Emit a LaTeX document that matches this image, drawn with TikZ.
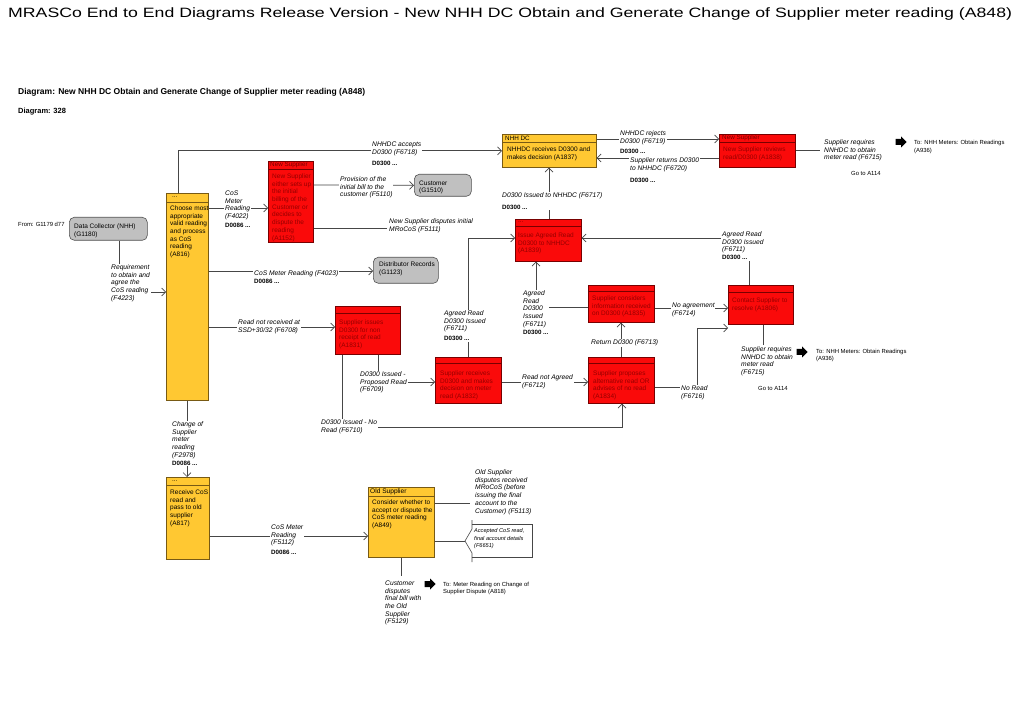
\documentclass[tikz,border=0pt]{standalone}
\usepackage{graphicx}
\usepackage{fontspec}
\setmainfont{Liberation Sans}
\usetikzlibrary{arrows.meta}
\definecolor{boxred}{RGB}{250,10,10}
\definecolor{redborder}{RGB}{120,0,0}
\definecolor{redink}{RGB}{150,0,0}
\definecolor{boxyel}{RGB}{255,200,50}
\definecolor{yelborder}{RGB}{120,90,20}
\definecolor{boxgray}{RGB}{192,192,192}
\definecolor{grayborder}{RGB}{80,80,80}
\definecolor{linegray}{RGB}{70,70,70}
\newcommand\myref[1]{{\upshape\bfseries\fontsize{6.2}{7.7}\selectfont #1}}
\newcommand\blockarr[1]{\fill[black] (#1) ++(-5.5,-3) -- ++(5.5,0) -- ++(0,-2.5) -- ++(5.5,5.5) -- ++(-5.5,5.5) -- ++(0,-2.5) -- ++(-5.5,0) -- cycle;}
\begin{document}
\begin{tikzpicture}[x=1pt,y=-1pt,
  box/.style={draw, line width=0.6pt, inner sep=0pt, anchor=north west},
  redbox/.style={box, fill=boxred, draw=redborder},
  yelbox/.style={box, fill=boxyel, draw=yelborder},
  graybox/.style={box, fill=boxgray, draw=grayborder, rounded corners=5pt},
  bodytext/.style={anchor=north west, inner sep=0pt, align=left, font=\fontsize{6.5}{7.7}\selectfont},
  redtext/.style={bodytext, text=redink},
  headtext/.style={anchor=west, inner sep=0pt, font=\fontsize{6.3}{7}\selectfont},
  lab/.style={anchor=north west, inner sep=0.8pt, align=left, fill=white, font=\fontsize{6.7}{7.7}\selectfont\itshape},
  note/.style={anchor=north west, inner sep=0pt, align=left, font=\fontsize{5.9}{7.5}\selectfont},
  conn/.style={draw=linegray, line width=0.7pt},
  arr/.style={conn, -{Straight Barb[length=4pt,width=8pt]}}
]
\useasboundingbox (0,0) rectangle (1023,708);
\fill[white] (0,0) rectangle (1023,708);

% titles
\node[anchor=base west, inner sep=0pt] (title) at (8,17.5) {\resizebox{1004pt}{9.8pt}{\fontsize{12}{14}\selectfont MRASCo End to End Diagrams Release Version - New NHH DC Obtain and Generate Change of Supplier meter reading (A848)}};
\node[anchor=west, inner sep=0pt] (diag1) at (18,92) {\resizebox{347pt}{!}{\fontsize{7.5}{9}\selectfont\bfseries Diagram: New NHH DC Obtain and Generate Change of Supplier meter reading (A848)}};
\node[anchor=west, inner sep=0pt, font=\fontsize{7.5}{9}\selectfont\bfseries] (diag2) at (18,112) {Diagram: 328};

% ---------- boxes ----------
% Data collector
\node[graybox, minimum width=78pt, minimum height=23pt] (datacol) at (69,217) {};
\node[bodytext] (datacol-t) at (74,223.5) {Data Collector (NHH)\\(G1180)};
\node[note] (from) at (18,222) {From: G1179 d77};

% A816
\node[yelbox, minimum width=42pt, minimum height=207pt] (a816) at (166,193) {};
\draw[yelborder, line width=0.5pt] ([yshift=-9pt]a816.north west) -- ([yshift=-9pt]a816.north east);
\node[headtext] (a816-h) at ([xshift=6pt,yshift=-4pt]a816.north west) {...};
\node[bodytext] (a816-t) at (170,205.5) {Choose most\\appropriate\\valid reading\\and process\\as CoS\\reading\\(A816)};

% A1152
\node[redbox, minimum width=45pt, minimum height=81pt] (a1152) at (268,161) {};
\draw[redborder, line width=0.5pt] ([yshift=-8pt]a1152.north west) -- ([yshift=-8pt]a1152.north east);
\node[headtext, text=redborder] (a1152-h) at ([xshift=2pt,yshift=-4pt]a1152.north west) {New Supplier};
\node[redtext] (a1152-t) at (272,173.5) {New Supplier\\either sets up\\the initial\\billing of the\\Customer or\\decides to\\dispute the\\reading\\(A1152)};

% Customer
\node[graybox, minimum width=57pt, minimum height=22pt] (customer) at (414,174) {};
\node[bodytext] (customer-t) at (419,180.5) {Customer\\(G1510)};

% Distributor Records
\node[graybox, minimum width=65pt, minimum height=26pt] (distrib) at (373,257) {};
\node[bodytext] (distrib-t) at (379,261.5) {Distributor Records\\(G1123)};

% A1837
\node[yelbox, minimum width=94pt, minimum height=33pt] (a1837) at (502,134) {};
\draw[yelborder, line width=0.5pt] ([yshift=-8pt]a1837.north west) -- ([yshift=-8pt]a1837.north east);
\node[headtext] (a1837-h) at ([xshift=3pt,yshift=-4pt]a1837.north west) {NHH DC};
\node[bodytext] (a1837-t) at (507,146.5) {NHHDC receives D0300 and\\makes decision (A1837)};

% A1838
\node[redbox, minimum width=76pt, minimum height=33pt] (a1838) at (719,134) {};
\draw[redborder, line width=0.5pt] ([yshift=-8pt]a1838.north west) -- ([yshift=-8pt]a1838.north east);
\node[headtext, text=redborder] (a1838-h) at ([xshift=3pt,yshift=-4pt]a1838.north west) {New Supplier};
\node[redtext] (a1838-t) at (723,146.5) {New Supplier reviews\\read/D0300 (A1838)};

% A1839
\node[redbox, minimum width=66pt, minimum height=42pt] (a1839) at (515,219) {};
\draw[redborder, line width=0.5pt] ([yshift=-7pt]a1839.north west) -- ([yshift=-7pt]a1839.north east);
\node[headtext, text=redborder] (a1839-h) at ([xshift=3pt,yshift=-3.5pt]a1839.north west) {...};
\node[redtext] (a1839-t) at (518,232.5) {Issue Agreed Read\\D0300 to NHHDC\\(A1839)};

% A1831
\node[redbox, minimum width=65pt, minimum height=48pt] (a1831) at (335,306) {};
\draw[redborder, line width=0.5pt] ([yshift=-7pt]a1831.north west) -- ([yshift=-7pt]a1831.north east);
\node[redtext] (a1831-t) at (339,319.5) {Supplier issues\\D0300 for non\\receipt of read\\(A1831)};

% A1832
\node[redbox, minimum width=66pt, minimum height=46pt] (a1832) at (435,357) {};
\draw[redborder, line width=0.5pt] ([yshift=-6pt]a1832.north west) -- ([yshift=-6pt]a1832.north east);
\node[redtext] (a1832-t) at (440,370.5) {Supplier receives\\D0300 and makes\\decision on meter\\read (A1832)};

% A1834
\node[redbox, minimum width=66pt, minimum height=46pt] (a1834) at (588,357) {};
\draw[redborder, line width=0.5pt] ([yshift=-6pt]a1834.north west) -- ([yshift=-6pt]a1834.north east);
\node[redtext] (a1834-t) at (593,370.5) {Supplier proposes\\alternative read OR\\advises of no read\\(A1834)};

% A1835
\node[redbox, minimum width=66pt, minimum height=37pt] (a1835) at (588,285) {};
\draw[redborder, line width=0.5pt] ([yshift=-6.5pt]a1835.north west) -- ([yshift=-6.5pt]a1835.north east);
\node[redtext] (a1835-t) at (592,295.5) {Supplier considers\\information received\\on D0300 (A1835)};

% A1806
\node[redbox, minimum width=65pt, minimum height=39pt] (a1806) at (728,285) {};
\draw[redborder, line width=0.5pt] ([yshift=-7pt]a1806.north west) -- ([yshift=-7pt]a1806.north east);
\node[redtext] (a1806-t) at (732,297.5) {Contact Supplier to\\resolve (A1806)};

% A817
\node[yelbox, minimum width=43pt, minimum height=82pt] (a817) at (166,477) {};
\draw[yelborder, line width=0.5pt] ([yshift=-8pt]a817.north west) -- ([yshift=-8pt]a817.north east);
\node[headtext] (a817-h) at ([xshift=6pt,yshift=-4pt]a817.north west) {...};
\node[bodytext] (a817-t) at (170,489.5) {Receive CoS\\read and\\pass to old\\supplier\\(A817)};

% A849
\node[yelbox, minimum width=66pt, minimum height=70pt] (a849) at (368,487) {};
\draw[yelborder, line width=0.5pt] ([yshift=-9pt]a849.north west) -- ([yshift=-9pt]a849.north east);
\node[headtext, font=\fontsize{6.6}{7.5}\selectfont] (a849-h) at ([xshift=2pt,yshift=-4.5pt]a849.north west) {Old Supplier};
\node[bodytext] (a849-t) at (372,499.5) {Consider whether to\\accept or dispute the\\CoS meter reading\\(A849)};

% Accepted CoS read flow shape
\draw[draw=linegray, line width=0.6pt] (472,524) -- (532,524) -- (532,557) -- (472,557);
\draw[draw=linegray, line width=0.6pt] (472,520) -- (472,529) -- (465,541) -- (472,553) -- (472,562);
\coordinate (accapex) at (465,541);
\node[note, font=\fontsize{5.6}{7.5}\selectfont\itshape] (accepted) at (474,528.5) {Accepted CoS read,\\final account details\\(F6651)};

% ---------- connectors ----------
\draw[arr] (a816.north -| 178,0) |- (a1837.west);
\draw[arr] (a816.east |- 0,208) -- (a1152.west |- 0,208);
\draw[arr] (a1152.east |- 0,185) -- (customer.west);
\coordinate (f5111end) at (387,228);
\draw[conn] (a1152.east |- 0,228) -- (f5111end);
\draw[arr] (a816.east |- 0,271) -- (distrib.west |- 0,271);
\draw[arr] (a816.east |- 0,327) -- (a1831.west |- 0,327);
\draw[arr] (a1831.south -| 378,0) |- (a1832.west |- 0,382);
\draw[arr] (a1831.south -| 342,0) |- (622,427) -- (a1834.south -| 622,0);
\draw[arr] (a1832.east |- 0,382) -- (a1834.west |- 0,382);
\draw[arr] (a1832.north -| 468,0) |- (a1839.west |- 0,238);
\draw[arr] (a1835.west |- 0,307) -| (a1839.south -| 536,0);
\draw[arr] (a1834.north -| 621,0) -- (a1835.south -| 621,0);
\draw[arr] (a1835.east |- 0,308) -- (a1806.west |- 0,308);
\draw[arr] (a1834.east |- 0,387) -| (697,328) -- (a1806.west |- 0,328);
\draw[arr] (a1806.north -| 749,0) |- (a1839.east |- 0,238);
\coordinate (f6715b) at (763,345);
\draw[conn] (a1806.south -| 763,0) -- (f6715b);
\draw[arr] (a1837.east |- 0,139) -- (a1838.west |- 0,139);
\draw[arr] (a1838.west |- 0,158) -- (a1837.east |- 0,158);
\draw[arr] (a1839.north -| 549,0) -- (a1837.south -| 549,0);
\coordinate (f6715a) at (820,150);
\draw[conn] (a1838.east |- 0,150) -- (f6715a);
\draw[arr] (datacol.south -| 119,0) |- (a816.west |- 0,292);
\draw[arr] (a816.south -| 187,0) -- (a817.north -| 187,0);
\draw[arr] (a817.east |- 0,536) -- (a849.west |- 0,536);
\coordinate (f5113end) at (470,503);
\draw[conn] (a849.east |- 0,503) -- (f5113end);
\draw[conn] (a849.east |- 0,541) -- (accapex);
\coordinate (f5129end) at (401,576);
\draw[conn] (a849.south -| 401,0) -- (f5129end);

% ---------- labels ----------
\node[lab] (l6718) at (371.2,140.7) {NHHDC accepts\\D0300 (F6718)\\[4pt]\myref{D0300 ...}};
\node[lab] (l4022) at (224.2,189.7) {CoS\\Meter\\Reading\\(F4022)\\[1.3pt]\myref{D0086 ...}};
\node[lab] (l5110) at (339.2,175.7) {Provision of the\\initial bill to the\\customer (F5110)};
\node[lab] (l5111) at (388.2,217.7) {New Supplier disputes initial\\MRoCoS (F5111)};
\node[lab] (l4023) at (253.2,269.7) {CoS Meter Reading (F4023)\\\myref{D0086 ...}};
\node[lab] (l4223) at (110.2,263.7) {Requirement\\to obtain and\\agree the\\CoS reading\\(F4223)};
\node[lab] (l6708) at (237.2,318.7) {Read not received at\\SSD+30/32 (F6708)};
\node[lab] (l6709) at (359.2,370.7) {D0300 Issued -\\Proposed Read\\(F6709)};
\node[lab] (l6710) at (320.2,418.7) {D0300 Issued - No\\Read (F6710)};
\node[lab] (l6711a) at (443.2,309.7) {Agreed Read\\D0300 Issued\\(F6711)\\[2pt]\myref{D0300 ...}};
\node[lab] (l6711b) at (522.2,289.7) {Agreed\\Read\\D0300\\Issued\\(F6711)\\\myref{D0300 ...}};
\node[lab] (l6712) at (521.2,373.7) {Read not Agreed\\(F6712)};
\node[lab] (l6713) at (590.2,338.7) {Return D0300 (F6713)};
\node[lab] (l6714) at (671.2,301.7) {No agreement\\(F6714)};
\node[lab] (l6716) at (680.2,384.7) {No Read\\(F6716)};
\node[lab] (l6711c) at (721.2,230.7) {Agreed Read\\D0300 Issued\\(F6711)\\\myref{D0300 ...}};
\node[lab] (l6715b) at (740.2,345.7) {Supplier requires\\NNHDC to obtain\\meter read\\(F6715)};
\node[lab] (l6719) at (619.2,129.7) {NHHDC rejects\\D0300 (F6719)\\[3pt]\myref{D0300 ...}};
\node[lab] (l6720) at (629.2,156.7) {Supplier returns D0300\\to NHHDC (F6720)\\[5pt]\myref{D0300 ...}};
\node[lab] (l6717) at (501.2,191.7) {D0300 Issued to NHHDC (F6717)\\[4pt]\myref{D0300 ...}};
\node[lab] (l6715a) at (823.2,138.7) {Supplier requires\\NNHDC to obtain\\meter read (F6715)};
\node[lab] (l2978) at (171.2,420.7) {Change of\\Supplier\\meter\\reading\\(F2978)\\\myref{D0086 ...}};
\node[lab] (l5112) at (270.2,523.7) {CoS Meter\\Reading\\(F5112)\\[2pt]\myref{D0086 ...}};
\node[lab] (l5113) at (474.2,468.7) {Old Supplier\\disputes received\\MRoCoS (before\\issuing the final\\account to the\\Customer) (F5113)};
\node[lab] (l5129) at (384.2,579.7) {Customer\\disputes\\final bill with\\the Old\\Supplier\\(F5129)};

% ---------- off-page references ----------
\coordinate (ba1) at (901,142);
\blockarr{ba1}
\node[note] (n936a) at (914,140.5) {To: NHH Meters: Obtain Readings\\(A936)};
\node[note] (goa) at (851,171) {Go to A114};
\coordinate (ba2) at (802,352);
\blockarr{ba2}
\node[note] (n936b) at (816,349) {To: NHH Meters: Obtain Readings\\(A936)};
\node[note] (gob) at (758,386) {Go to A114};
\coordinate (ba3) at (430,584);
\blockarr{ba3}
\node[note] (n818) at (443,582) {To: Meter Reading on Change of\\Supplier Dispute (A818)};
\end{tikzpicture}
\end{document}
